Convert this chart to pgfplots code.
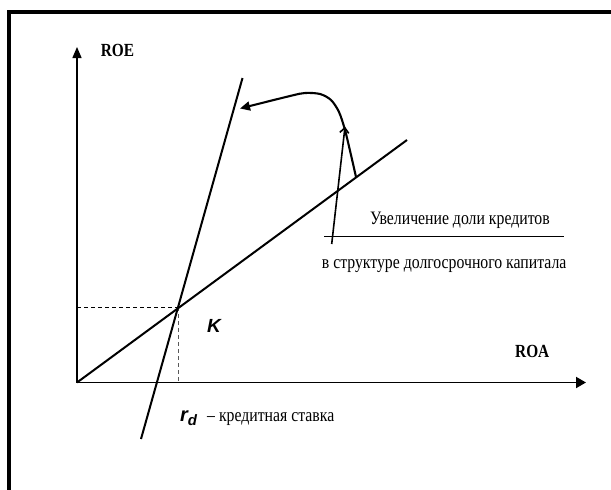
\documentclass[border=0pt]{standalone}
\usepackage{fontspec}
\usepackage{pgfplots}
\pgfplotsset{compat=1.18}
\usetikzlibrary{arrows.meta}
\setmainfont{Liberation Serif}[FakeStretch=0.83]
\newfontfamily\sansf{Liberation Sans}
\begin{document}
\begin{tikzpicture}
\begin{axis}[name=ax, width=611pt, height=490pt, scale only axis,
  xmin=0, xmax=611, ymin=0, ymax=490, y dir=reverse, hide axis, clip=true]
% frame
\addplot[black, line width=4pt] coordinates {(9.2,520) (9.2,11.8) (640,11.8)};
% axes
\addplot[black, line width=1.3pt, -{Triangle[length=11pt,width=9pt]}] coordinates {(77,382.5) (77,47)};
\addplot[black, line width=1.9pt, -{Triangle[length=10pt,width=11pt]}] coordinates {(77,382.5) (586,382.5)};
% dashed guides
\addplot[black, line width=1pt, dash pattern=on 4pt off 3pt] coordinates {(77,307) (178,307)};
\addplot[black!65, line width=1.5pt, dash pattern=on 4pt off 3pt] coordinates {(178.3,307) (178.3,382)};
% lines
\addplot[black, line width=2pt] coordinates {(77,382.5) (407,140)};
\addplot[black, line width=2pt] coordinates {(141,439) (242.5,78)};
% curved arrow
\addplot[black, line width=2.1pt, smooth, tension=0.5, -{Triangle[length=10pt,width=9pt]}] coordinates {(356,177) (351,155) (345,130) (339,112) (331,100) (320,94) (305,93) (290,96) (240,108.5)};
% thin arrow
\addplot[black, line width=1.6pt, -{Straight Barb[length=5pt,width=9pt]}] coordinates {(331.7,244) (345,126.7)};
% horizontal rule
\addplot[black, line width=1.4pt] coordinates {(324,236.7) (564,236.7)};
% texts
\node[anchor=base west, inner sep=0pt, font=\fontsize{18.5}{19}\selectfont\bfseries] at (100.7,56.7) {ROE};
\node[anchor=base west, inner sep=0pt, font=\fontsize{18.5}{19}\selectfont\bfseries] at (515,357) {ROA};
\node[anchor=base west, inner sep=0pt, font=\fontsize{19}{20}\selectfont\sansf\itshape\bfseries] at (207,332.7) {K};
\node[anchor=base west, inner sep=0pt, font=\fontsize{20}{20}\selectfont\sansf\itshape\bfseries] at (180,421) {r\raisebox{-4pt}{\fontsize{15}{15}\selectfont d}};
\node[anchor=base west, inner sep=0pt, font=\fontsize{19}{20}\selectfont] at (207,421) {– кредитная ставка};
\node[anchor=base west, inner sep=0pt, font=\fontsize{19}{20}\selectfont] at (370,224) {Увеличение доли кредитов};
\node[anchor=base west, inner sep=0pt, font=\fontsize{19}{20}\selectfont] at (321.7,268.3) {в структуре долгосрочного капитала};
\end{axis}
\pgfresetboundingbox
\path[use as bounding box] (ax.south west) rectangle (ax.north east);
\end{tikzpicture}
\end{document}
